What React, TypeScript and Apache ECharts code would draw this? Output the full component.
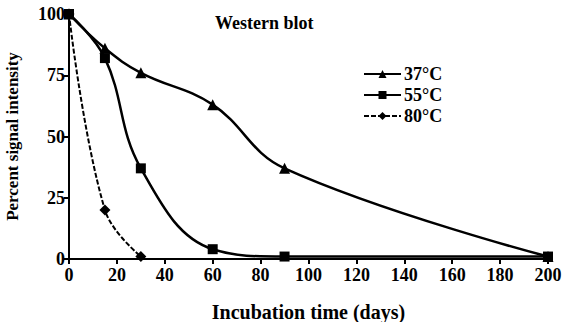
import React, { useEffect, useRef } from "react";
import * as echarts from "echarts";

const seriesNames = ["37°C", "55°C", "80°C"];
const days37 = [0, 15, 30, 60, 90, 200];
const vals37 = [100, 86, 76, 63, 37, 1];
const days55 = [0, 15, 30, 60, 90, 200];
const vals55 = [100, 82, 37, 4, 1, 1];
const days80 = [0, 15, 30];
const vals80 = [100, 20, 1];

const FONT = "Liberation Serif";

export default function App() {
  const ref = useRef<HTMLDivElement>(null);
  useEffect(() => {
    if (!ref.current) return;
    const chart = echarts.init(ref.current, undefined, { renderer: "svg" });
    const zip = (xs: number[], ys: number[]) => xs.map((x, i) => [x, ys[i]]);
    const textStyle = { fontFamily: FONT, fontWeight: "bold" as const, color: "#000" };
    chart.setOption({
      animation: false,
      backgroundColor: "#fff",
      title: {
        text: "Western blot",
        left: 210,
        top: 9,
        textStyle: { ...textStyle, fontSize: 18 },
      },
      legend: {
        data: seriesNames,
        orient: "vertical",
        left: 358,
        top: 60,
        itemWidth: 37,
        itemHeight: 10,
        itemGap: 3,
        textStyle: { ...textStyle, fontSize: 18, padding: [0, 0, 0, -2] },
      },
      grid: { left: 69, right: 16, top: 14, bottom: 63, containLabel: false, outerBoundsMode: "none" },
      xAxis: {
        type: "value",
        min: 0,
        max: 200,
        interval: 20,
        name: "Incubation time (days)",
        nameLocation: "middle",
        nameGap: 43,
        nameTextStyle: { ...textStyle, fontSize: 20 },
        axisLine: { lineStyle: { color: "#000", width: 2 } },
        axisTick: { lineStyle: { color: "#000", width: 2 }, length: 5 },
        axisLabel: { ...textStyle, fontSize: 18, margin: 7 },
        splitLine: { show: false },
      },
      yAxis: {
        type: "value",
        min: 0,
        max: 100,
        interval: 25,
        name: "Percent signal intensity",
        nameLocation: "middle",
        nameGap: 48,
        nameTextStyle: { ...textStyle, fontSize: 17 },
        axisLine: { show: true, lineStyle: { color: "#000", width: 2 } },
        axisTick: { show: true, lineStyle: { color: "#000", width: 2 }, length: 5 },
        axisLabel: { ...textStyle, fontSize: 18, margin: 4 },
        splitLine: { show: false },
      },
      series: [
        {
          name: seriesNames[0],
          type: "line",
          data: zip(days37, vals37),
          smooth: 0.4,
          symbol: "triangle",
          symbolSize: 11,
          itemStyle: { color: "#000" },
          lineStyle: { color: "#000", width: 2.5 },
        },
        {
          name: seriesNames[1],
          type: "line",
          data: zip(days55, vals55),
          smooth: 0.4,
          symbol: "rect",
          symbolSize: 10,
          itemStyle: { color: "#000" },
          lineStyle: { color: "#000", width: 2.5 },
        },
        {
          name: seriesNames[2],
          type: "line",
          data: zip(days80, vals80),
          smooth: 0.4,
          symbol: "diamond",
          symbolSize: 11,
          itemStyle: { color: "#000" },
          lineStyle: { color: "#000", width: 2, type: [5, 2] },
        },
      ],
    });
    return () => chart.dispose();
  }, []);
  return <div ref={ref} style={{ width: 564, height: 322, position: "absolute", left: 0, top: 0 }} />;
}
